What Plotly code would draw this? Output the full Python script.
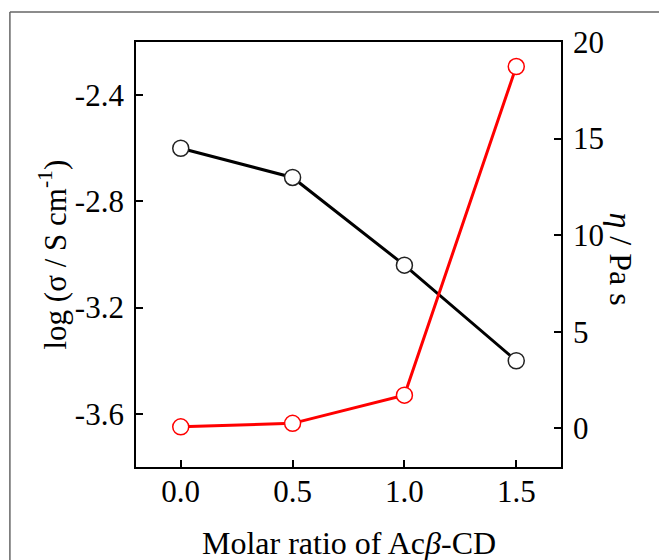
import plotly.graph_objects as go

# Data
molar_ratio = [0.0, 0.5, 1.0, 1.5]
log_sigma = [-2.60, -2.71, -3.04, -3.40]
viscosity = [0.08, 0.26, 1.72, 18.73]

x_tickvals = [0.0, 0.5, 1.0, 1.5]
x_ticktext = ["0.0", "0.5", "1.0", "1.5"]
y1_tickvals = [-3.6, -3.2, -2.8, -2.4]
y1_ticktext = ["-3.6", "-3.2", "-2.8", "-2.4"]
y2_tickvals = [0, 5, 10, 15, 20]
y2_ticktext = ["0", "5", "10", "15", "20"]

FONT = "Liberation Serif"

fig = go.Figure()
fig.add_trace(go.Scatter(
    x=molar_ratio, y=log_sigma, mode="lines+markers",
    line=dict(color="black", width=3),
    marker=dict(symbol="circle", size=16, color="white",
                line=dict(color="#222222", width=1.5)),
    showlegend=False, cliponaxis=False,
))
fig.add_trace(go.Scatter(
    x=molar_ratio, y=viscosity, mode="lines+markers", yaxis="y2",
    line=dict(color="#ff0000", width=3),
    marker=dict(symbol="circle", size=16, color="white",
                line=dict(color="#ff0000", width=1.5)),
    showlegend=False, cliponaxis=False,
))

axis_common = dict(
    showgrid=False, zeroline=False, showline=True, linecolor="black",
    linewidth=1.8, ticks="inside", ticklen=7, tickwidth=1.5,
    tickcolor="black", tickfont=dict(family=FONT, size=31, color="black"),
)

fig.update_layout(
    width=659, height=560,
    margin=dict(l=136, r=98, t=42, b=93),
    paper_bgcolor="white", plot_bgcolor="white",
    font=dict(family=FONT, color="black"),
    xaxis=dict(range=[-0.2, 1.7], tickvals=x_tickvals, ticktext=x_ticktext,
               mirror=True, ticklabelstandoff=-4, **axis_common),
    yaxis=dict(range=[-3.8, -2.2], tickvals=y1_tickvals, ticktext=y1_ticktext,
               ticklabelstandoff=4, **axis_common),
    yaxis2=dict(range=[-2, 20], tickvals=y2_tickvals, ticktext=y2_ticktext,
                overlaying="y", side="right", ticklabelstandoff=4,
                **axis_common),
    annotations=[
        dict(text="Molar ratio of Ac<i>β</i>-CD", xref="paper", yref="paper",
             x=0.5, y=-0.178, xanchor="center", yanchor="middle",
             showarrow=False, font=dict(family=FONT, size=32, color="black")),
        dict(text="log (σ / S cm<sup>-1</sup>)", xref="paper", yref="paper",
             x=-0.1953, y=0.5, xanchor="center", yanchor="middle",
             textangle=-90, showarrow=False,
             font=dict(family=FONT, size=31, color="black")),
        dict(text="<i>η</i> / Pa s", xref="paper", yref="paper",
             x=1.1419, y=0.49, xanchor="center", yanchor="middle",
             textangle=90, showarrow=False,
             font=dict(family=FONT, size=32, color="black")),
    ],
    shapes=[
        dict(type="line", xref="paper", yref="paper", x0=-0.2967, x1=1.3,
             y0=1.0706, y1=1.0706, line=dict(color="#666666", width=1.5)),
        dict(type="line", xref="paper", yref="paper", x0=-0.2967, x1=-0.2967,
             y0=-0.3, y1=1.0706, line=dict(color="#666666", width=1.5)),
    ],
)

fig.write_html("out.html",
               config={"displayModeBar": False},
               post_script="document.body.style.margin='0';"
                           "document.body.style.overflow='hidden';")
